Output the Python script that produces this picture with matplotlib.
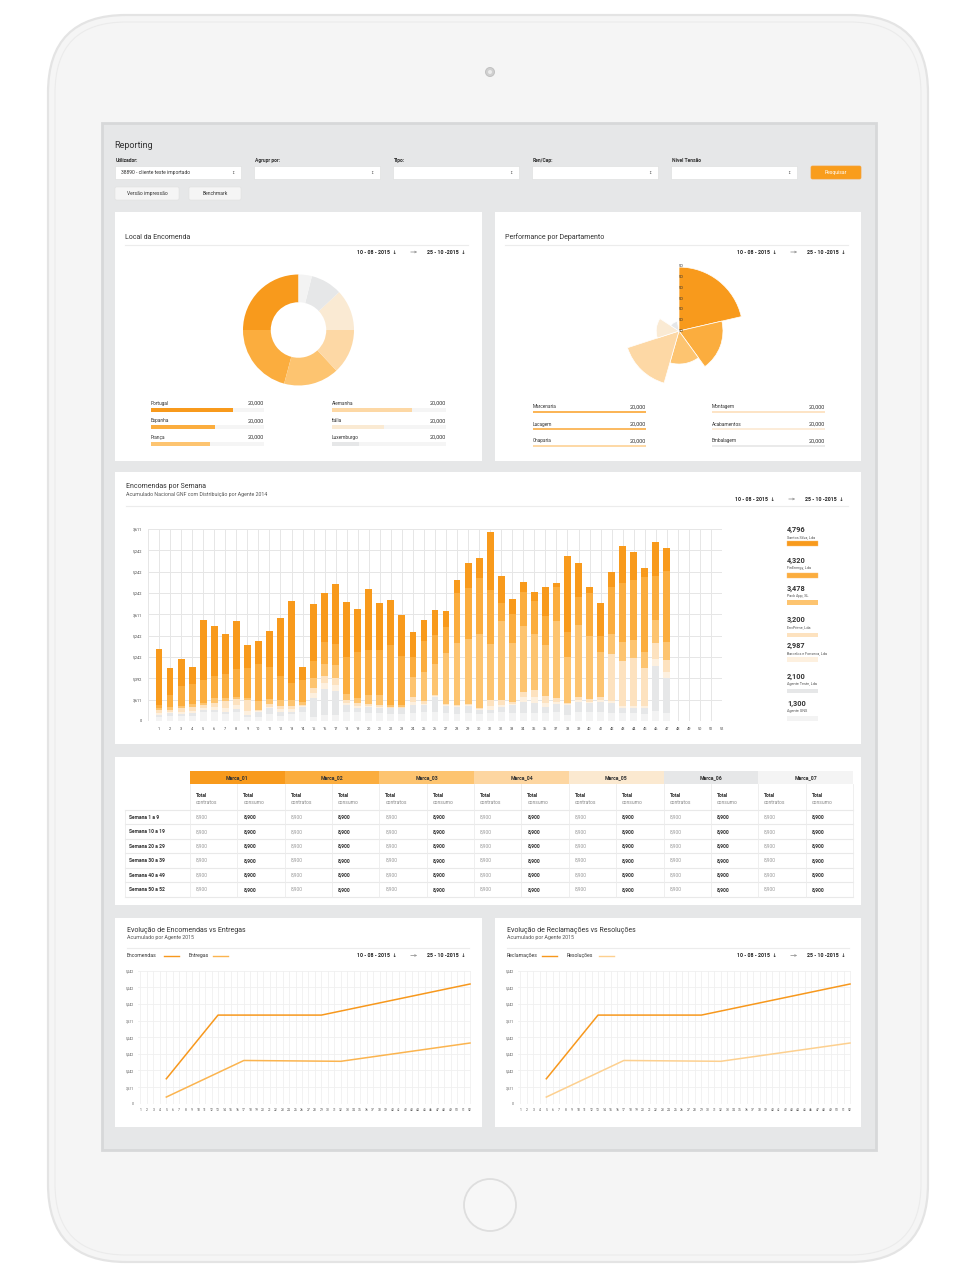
import matplotlib
matplotlib.use('Agg')
import matplotlib.pyplot as plt
from matplotlib.patches import FancyBboxPatch, Rectangle, Circle
import numpy as np

plt.rcParams['font.family'] = ['Roboto', 'DejaVu Sans']

# ---------------- DATA ----------------
filter_labels = ['Utilizador:', 'Agrupr por:', 'Tipo:', 'Ren/Cap:', 'Nível Tensão']
filter_values = ['38890 - cliente teste importado', '', '', '', '']

donut_names = ['Portugal', 'Espanha', 'França', 'Alemanha', 'Itália', 'Luxemburgo', 'Outros']
donut_values = [90, 75, 58, 47, 43, 33, 14]
donut_colors = ['#f89a1c', '#fbad3e', '#fdc470', '#fdd8a5', '#faead3', '#e6e7e8', '#f3f3f3']
donut_legend_fill = [0.73, 0.57, 0.52, 0.70, 0.46, 0.24]
donut_legend_value = ['20,000'] * 6

rose_names = ['Marcenaria', 'Lacagem', 'Chaparia', 'Montagem', 'Acabamentos', 'Embalagem']
rose_start_deg = [13, -54, -106, 198, 147, 100]
rose_width_deg = [77, 67, 52, 56, 51, 47]
rose_radius = [5.9, 4.06, 3.05, 5.0, 2.1, 0.9]
rose_colors = ['#f89a1c', '#fbad3e', '#fdc470', '#fdd8a5', '#faead3', '#e6e7e8']
rose_line_colors = ['#fbae45', '#fbb454', '#fdd69e', '#fde2c0', '#fcebd6', '#e8e8e8']
rose_legend_value = ['20,000'] * 6
rose_rticks = [0, 1, 2, 3, 4, 5, 6]
rose_rtick_labels = ['50'] * 7

weeks = list(range(1, 53))
agents = ['Santos Silva, Lda', 'FinEnergy, Lda', 'Pack App, SL', 'EnvPrime, Lda',
          'Barcelos e Fonseca, Lda', 'Agente Teste, Lda', 'Agente GNS']
agent_totals = ['4,796', '4,320', '3,478', '3,200', '2,987', '2,100', '1,300']
agent_colors = ['#f89a1c', '#fbad3e', '#fdc470', '#fde2bf', '#fdf0df', '#e6e7e8', '#f3f3f3']

santos = [2.61, 1.28, 1.25, .77, 2.83, 2.34, 1.86, 2.27, 1.05, 1.09, 1.67, 2.70, 3.83, .62, 2.66, 2.27,
          2.81, 2.58, 2.02, 2.84, 2.20, 2.13, 1.92, 1.14, 1.00, 1.17, .73, .59, 1.14, .94, 2.72, 1.28,
          .72, .44, .44, 1.34, .20, 3.59, 1.59, .28, 1.52, .70, 1.77, 1.30, .42, 1.56, 1.09]
finenergy = [.16, .58, .95, .94, 1.09, 1.02, 1.11, 1.28, 1.39, 1.72, 1.52, 1.13, .80, 1.02, .81, 1.03,
             .98, 1.73, 2.13, 2.11, 2.14, 2.81, 2.28, .94, 1.41, 1.36, 1.22, 2.38, 2.41, 2.61, 2.53, .83,
             1.38, 1.64, 1.55, 1.36, 1.57, 1.13, 1.30, 2.03, .77, 2.22, 2.77, 2.81, 3.52, 2.08, 3.31]
packapp = [.09, .12, .11, .16, .08, .23, .16, .12, .12, .45, .25, .28, .28, .16, .47, .59,
           .63, .28, .25, .44, .47, .09, .12, .94, 1.38, 1.45, 2.42, 2.89, 3.06, 3.44, 2.63, 3.70,
           2.73, 3.08, 2.63, 2.39, 3.63, 2.19, 3.36, 2.95, 2.08, .95, .86, .86, .72, 1.09, .86]
envprime = [.12, .10, .17, .18, .15, .22, .35, .27, .50, .04, .12, .17, .17, .05, .24, .31,
            .29, .14, .14, .07, .08, .03, .03, .24, .12, .05, .05, .07, .05, .08, .30, .21,
            .10, .24, .34, .33, .17, .05, .15, .13, .15, 2.17, 2.13, 2.24, 1.81, .75, .56]
barcelos = [.10, .06, .08, .10, .08, .12, .15, .20, .20, .04, .07, .10, .10, .03, .20, .30,
            .30, .08, .08, .04, .04, .03, .03, .15, .07, .03, .03, .04, .03, .04, .17, .10,
            .06, .20, .25, .20, .10, .03, .08, .07, .08, .10, .10, .10, .10, .30, .30]
agteste = [.11, .11, .09, .11, .11, .11, .11, .14, .11, .23, .28, .19, .11, .23, .92, 1.20,
           1.13, .34, .19, .28, .25, .25, .25, .39, .33, .70, .31, .33, .34, .20, .12, .23,
           .36, .52, .47, .28, .36, .47, .47, .42, .47, .47, .20, .20, .28, 2.13, 1.64]
agns = [.17, .25, .25, .25, .41, .41, .33, .41, .17, .20, .31, .25, .33, .44, .17, .28,
        .28, .41, .44, .39, .37, .34, .34, .36, .42, .44, .39, .31, .36, .31, .39, .44,
        .39, .39, .39, .36, .44, .28, .44, .41, .44, .39, .39, .39, .31, .47, .36]
bar_ytick_labels = ['0', '3,611', '5,392', '5,242', '5,242', '3,611', '5,242', '5,242', '5,242', '3,611']

marcas = ['Marca_01', 'Marca_02', 'Marca_03', 'Marca_04', 'Marca_05', 'Marca_06', 'Marca_07']
marca_colors = ['#f89a1c', '#fbad3e', '#fdc470', '#fdd6a1', '#fbe9d0', '#e6e7e8', '#f4f4f4']
table_rows = ['Semana 1 a 9', 'Semana 10 a 19', 'Semana 20 a 29', 'Semana 30 a 39',
              'Semana 40 a 49', 'Semana 50 a 52']
table_contratos = [['8,900'] * 7 for _ in range(6)]
table_consumo = [['8,900'] * 7 for _ in range(6)]

line_ytick_labels = ['0', '3,611', '5,242', '5,242', '5,242', '3,611', '5,242', '5,242', '5,242']
enc_x = [5, 13, 29, 52]
enc_y = [1.5, 5.33, 5.33, 7.2]
ent_x = [5, 17, 32, 52]
ent_y = [0.4, 2.6, 2.55, 3.65]
rec_x = [5, 13, 29, 52]
rec_y = [1.5, 5.33, 5.33, 7.2]
res_x = [5, 17, 32, 52]
res_y = [0.4, 2.6, 2.55, 3.65]

# ---------------- FIGURE ----------------
W, H = 960, 1288
fig = plt.figure(figsize=(9.6, 12.88), dpi=100)
fig.patch.set_facecolor('white')
bg = fig.add_axes([0, 0, 1, 1])
bg.set_xlim(0, W)
bg.set_ylim(H, 0)
bg.axis('off')


def px_axes(x0, y0, x1, y1, **kw):
    return fig.add_axes([x0 / W, 1 - y1 / H, (x1 - x0) / W, (y1 - y0) / H], **kw)


def rect(x, y, w, h, fc, ec='none', lw=0, z=1):
    bg.add_patch(Rectangle((x, y), w, h, facecolor=fc, edgecolor=ec, linewidth=lw, zorder=z))


def txt(x, y, s, size=4, weight='normal', color='#333333', ha='left', va='center', z=5):
    bg.text(x, y, s, fontsize=size, fontweight=weight, color=color, ha=ha, va=va, zorder=z)


def dates(x0, y):
    txt(x0, y, '10 - 08 - 2015  ↓', size=3.8, weight='bold', color='#222222')
    bg.annotate('', xy=(x0 + 63, y), xytext=(x0 + 51, y),
                arrowprops=dict(arrowstyle='->', color='#9a9a9a', lw=0.6, mutation_scale=3), zorder=5)
    txt(x0 + 70, y, '25 - 10 -2015  ↓', size=3.8, weight='bold', color='#222222')


# iPad body
bg.add_patch(FancyBboxPatch((48, 15), 880, 1247, boxstyle='round,pad=0,rounding_size=78',
                            facecolor='#f5f5f5', edgecolor='#e4e4e4', linewidth=1.6, zorder=0))
bg.add_patch(FancyBboxPatch((55, 22), 866, 1233, boxstyle='round,pad=0,rounding_size=71',
                            facecolor='none', edgecolor='#ebebeb', linewidth=0.8, zorder=0))
bg.add_patch(Circle((490, 72), 4.5, facecolor='#d0d0d0', edgecolor='#bdbdbd', lw=0.6, zorder=1))
bg.add_patch(Circle((490, 72), 2, facecolor='#ececec', edgecolor='none', zorder=1))
bg.add_patch(Circle((490, 1205), 26, facecolor='#f7f7f7', edgecolor='#dedede', lw=1.3, zorder=1))

# Screen
rect(102, 123, 774, 1027, '#e6e7e8', ec='#d7d8d9', lw=2, z=1)

# Header
txt(114, 145, 'Reporting', size=6.5, color='#333333')
fx = [115, 254, 393, 532, 671]
for x, lab, val in zip(fx, filter_labels, filter_values):
    txt(x + 1, 160, lab, size=3.6, weight='bold', color='#333333')
    rect(x, 166, 126, 13, 'white', ec='#dcdcdc', lw=0.4, z=2)
    if val:
        txt(x + 6, 172.5, val, size=3.6, color='#333333')
    txt(x + 118, 172.5, '↕', size=3, color='#555555', ha='center')
bg.add_patch(FancyBboxPatch((811, 166), 50, 13, boxstyle='round,pad=0,rounding_size=1.5',
                            facecolor='#f99d1c', edgecolor='#f5a23a', lw=0.5, zorder=2))
txt(836, 172.5, 'Pesquisar', size=3.6, color='white', ha='center')
for x, w, s in [(115, 64, 'Versão impressão'), (189, 52, 'Benchmark')]:
    bg.add_patch(FancyBboxPatch((x, 187), w, 13, boxstyle='round,pad=0,rounding_size=1.5',
                                facecolor='#f5f5f5', edgecolor='#e0e0e0', lw=0.4, zorder=2))
    txt(x + w / 2, 193.5, s, size=3.6, color='#333333', ha='center')

# Panels
for (x0, y0, x1, y1) in [(115, 212, 482, 461), (495, 212, 861, 461), (115, 472, 861, 744),
                         (115, 757, 861, 905), (115, 918, 482, 1127), (495, 918, 861, 1127)]:
    rect(x0, y0, x1 - x0, y1 - y0, 'white', z=1)

# ---------- Panel 1: donut ----------
txt(125, 237, 'Local da Encomenda', size=5, color='#333333')
bg.plot([125, 468], [245, 245], color='#ececec', lw=0.8, zorder=3)
dates(357, 252)
ax_d = px_axes(243, 274.5, 354, 385.5)
ax_d.pie(donut_values, colors=donut_colors, startangle=90, counterclock=True,
         wedgeprops=dict(width=0.5, edgecolor='none'), radius=1)
ax_d.set_xlim(-1, 1)
ax_d.set_ylim(-1, 1)
ax_d.set_aspect('auto')
ax_d.axis('off')

for i in range(6):
    col, row = divmod(i, 3)
    x0 = 151 if col == 0 else 332
    ww = 113 if col == 0 else 114
    yt = [403.5, 420.7, 437.5][row]
    yb = [410, 427, 444][row]
    txt(x0, yt, donut_names[i], size=3.4, color='#333333')
    txt(x0 + ww, yt, donut_legend_value[i], size=4, color='#333333', ha='right')
    rect(x0, yb - 2.2, ww, 4.4, '#f5f5f5', z=2)
    rect(x0, yb - 2.2, ww * donut_legend_fill[i], 4.4, donut_colors[i], z=3)

# ---------- Panel 2: rose ----------
txt(505, 237, 'Performance por Departamento', size=5, color='#333333')
bg.plot([505, 848], [245, 245], color='#ececec', lw=0.8, zorder=3)
dates(737, 252)
ax_r = px_axes(614, 266, 744, 396, projection='polar')
theta = np.radians(np.array(rose_start_deg) + np.array(rose_width_deg) / 2)
ax_r.bar(theta, rose_radius, width=np.radians(rose_width_deg), color=rose_colors,
         edgecolor='white', linewidth=0.5, align='center')
ax_r.set_ylim(0, 6)
ax_r.set_axis_off()
for r, lab in zip(rose_rticks, rose_rtick_labels):
    ax_r.text(np.pi / 2, r, lab, fontsize=3, color='#333333', ha='left', va='center')

for i in range(6):
    col, row = divmod(i, 3)
    x0 = 533 if col == 0 else 712
    yt = [406.7, 424, 440.7][row]
    yl = [412.3, 429.3, 446][row]
    txt(x0, yt, rose_names[i], size=3.4, color='#333333')
    txt(x0 + 113, yt, rose_legend_value[i], size=4, color='#333333', ha='right')
    bg.plot([x0, x0 + 113], [yl, yl], color=rose_line_colors[i], lw=1.3, zorder=3,
            solid_capstyle='butt')

# ---------- Panel 3: stacked bars ----------
txt(126, 486, 'Encomendas por Semana', size=5, color='#333333')
txt(126, 494, 'Acumulado Nacional GNF com Distribuição por Agente 2014', size=3.8, color='#555555')
bg.plot([126, 848], [506, 506], color='#ececec', lw=0.8, zorder=3)
dates(735, 499)

ax_b = px_axes(148, 529, 722, 721)
series = [agns, agteste, barcelos, envprime, packapp, finenergy, santos]
colors_bottom_up = agent_colors[::-1]
xb = np.arange(1, len(santos) + 1)
bottom = np.zeros(len(santos))
for s, c in zip(series, colors_bottom_up):
    ax_b.bar(xb, s, bottom=bottom, width=0.62, color=c, edgecolor='none', zorder=3)
    bottom += np.array(s)
ax_b.set_xlim(0, 52)
ax_b.set_ylim(0, 9)
ax_b.set_xticks(range(0, 53), minor=True)
ax_b.set_xticks(weeks)
ax_b.set_xticklabels([str(w) for w in weeks], fontsize=2.8, color='#444444')
ax_b.set_yticks(range(0, 10))
ax_b.set_yticklabels(bar_ytick_labels, fontsize=2.8, color='#444444')
ax_b.grid(True, which='both', color='#e6e6e6', lw=0.7)
ax_b.set_axisbelow(True)
ax_b.tick_params(length=0, pad=4)
ax_b.tick_params(which='minor', length=0)
for sp in ax_b.spines.values():
    sp.set_visible(False)
ax_b.set_facecolor('white')

ly = [(530, 537, 541), (561, 568, 573), (589, 596, 600), (620, 627, 632.5),
      (646, 653, 657), (677, 684, 688.5), (704, 711, 716)]
for (yv, yn, ys), tot, nm, c in zip(ly, agent_totals, agents, agent_colors):
    txt(787, yv, tot, size=5.3, weight='bold', color='#333333')
    txt(787, yn, nm, size=2.7, color='#555555')
    rect(787, ys, 31, 4.8, c, ec='#fbbf70' if c in ('#f89a1c', '#fbad3e') else 'none', lw=0.3, z=3)

# ---------- Panel 4: table ----------
col0 = 190.0
cw = 94.7
sub = cw / 2
tx0, tx1 = 125, 853
for j, (m, c) in enumerate(zip(marcas, marca_colors)):
    x = col0 + j * cw
    rect(x, 770.7, cw, 13.6, c, z=2)
    txt(x + cw / 2, 777.5, m, size=3.7, weight='bold', color='#333333', ha='center')
    for k, lab in enumerate(['contratos', 'consumo']):
        xs = x + k * sub
        txt(xs + 6, 795, 'Total', size=3.6, weight='bold', color='#333333')
        txt(xs + 6, 802, lab, size=3.6, color='#8a8a8a')
# grid lines
row_top = 810.0
rh = 14.45
for i in range(7):
    y = row_top + i * rh
    bg.plot([tx0, tx1], [y, y], color='#e9e9e9', lw=0.8, zorder=3)
for j in range(15):
    x = col0 + j * sub
    bg.plot([x, x], [784.3, row_top + 6 * rh], color='#ececec', lw=0.6, zorder=3)
bg.plot([tx0, tx0], [row_top, row_top + 6 * rh], color='#ececec', lw=0.6, zorder=3)
for i, rl in enumerate(table_rows):
    yc = row_top + (i + 0.5) * rh
    txt(129, yc, rl, size=3.6, weight='bold', color='#333333')
    for j in range(7):
        x = col0 + j * cw
        txt(x + 6, yc, table_contratos[i][j], size=3.6, color='#9a9a9a')
        txt(x + sub + 6, yc, table_consumo[i][j], size=3.6, weight='bold', color='#333333')


# ---------- Panels 5/6: lines ----------
def line_panel(xoff, title, sub_t, n1, n2, x1, y1, x2, y2, c1, c2):
    txt(127 + xoff, 930, title, size=5, color='#333333')
    txt(127 + xoff, 937.5, sub_t, size=3.8, color='#555555')
    bg.plot([127 + xoff, 469 + xoff], [948, 948], color='#ececec', lw=0.8, zorder=3)
    txt(127 + xoff, 955.5, n1, size=3.7, color='#333333')
    w1 = 37 if n1 == 'Encomendas' else 35
    bg.plot([127 + xoff + w1, 127 + xoff + w1 + 15], [955.5, 955.5], color=c1, lw=1, zorder=3)
    x2t = 127 + xoff + w1 + 25
    txt(x2t, 955.5, n2, size=3.7, color='#333333')
    w2 = 24 if n2 == 'Entregas' else 32
    bg.plot([x2t + w2, x2t + w2 + 15], [955.5, 955.5], color=c2, lw=1, zorder=3)
    dates(357 + xoff, 955.5)
    ax = px_axes(137.7 + xoff, 970.7, 471 + xoff, 1103.7)
    ax.plot(x1, y1, color=c1, lw=1.1, zorder=3)
    ax.plot(x2, y2, color=c2, lw=1.1, zorder=3)
    ax.set_xlim(0.57, 52.15)
    ax.set_ylim(0, 8)
    ax.set_xticks(weeks)
    ax.set_xticklabels([str(w) for w in weeks], fontsize=2.4, color='#555555')
    ax.set_yticks(range(9))
    ax.set_yticklabels(line_ytick_labels, fontsize=2.4, color='#555555')
    ax.grid(True, color='#f0f0f0', lw=0.6)
    ax.set_axisbelow(True)
    ax.tick_params(length=0, pad=3)
    for sp in ax.spines.values():
        sp.set_visible(False)
    ax.set_facecolor('white')


line_panel(0, 'Evolução de Encomendas vs Entregas', 'Acumulado por Agente 2015',
           'Encomendas', 'Entregas', enc_x, enc_y, ent_x, ent_y, '#f7981d', '#fbb44f')
line_panel(380, 'Evolução de Reclamações vs Resoluções', 'Acumulado por Agente 2015',
           'Reclamações', 'Resoluções', rec_x, rec_y, res_x, res_y, '#f7981d', '#fdd08f')

fig.savefig('out.png', dpi=100, facecolor='white')
